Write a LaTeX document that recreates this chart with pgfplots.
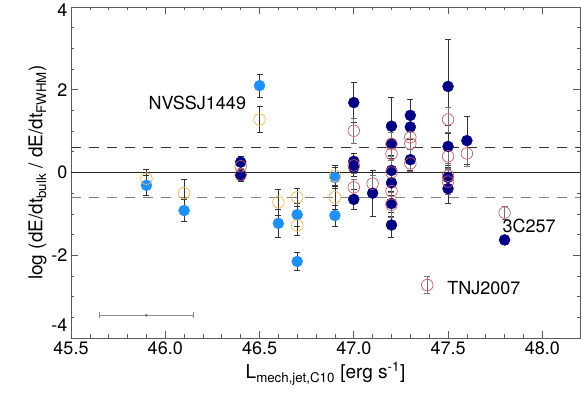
\documentclass[border=0pt]{standalone}
\usepackage{pgfplots}
\pgfplotsset{compat=1.18}
\usepackage{pgfplotstable}
\usepackage{fontspec}
\setmainfont{TeX Gyre Heros}
\definecolor{lblue}{RGB}{30,144,255}
\definecolor{dnavy}{RGB}{0,0,135}
\definecolor{lorange}{RGB}{245,180,70}
\definecolor{ired}{RGB}{205,92,92}
\definecolor{axgrey}{RGB}{90,90,90}

\pgfplotstableread{
x y ey
45.9 -0.31 0.25
46.1 -0.92 0.27
46.5 2.10 0.28
46.6 -1.23 0.33
46.7 -1.02 0.28
46.7 -2.15 0.22
46.9 -0.12 0.25
46.9 -1.04 0.25
}\bluedata

\pgfplotstableread{
x y ey
45.9 -0.15 0.22
46.1 -0.50 0.33
46.5 1.28 0.32
46.6 -0.72 0.32
46.7 -0.60 0.22
46.7 -1.28 0.25
46.9 -0.08 0.25
46.9 -0.60 0.28
}\orangedata

\pgfplotstableread{
x y ey
46.4 0.25 0.15
46.4 -0.07 0.15
47.0 1.69 0.48
47.0 0.27 0.20
47.0 0.12 0.20
47.0 -0.65 0.25
47.1 -0.50 0.55
47.2 1.12 0.70
47.2 0.70 0.40
47.2 0.05 0.30
47.2 -0.25 0.30
47.2 -0.75 0.30
47.2 -1.27 0.30
47.3 1.38 0.38
47.3 1.10 0.30
47.3 0.31 0.25
47.5 2.08 1.13
47.5 0.63 0.50
47.5 -0.12 0.30
47.5 -0.39 0.35
47.6 0.77 0.58
47.8 -1.63 0.10
}\navydata

\pgfplotstableread{
x y ey
46.4 0.15 0.15
46.4 -0.05 0.15
47.0 1.01 0.30
47.0 0.17 0.20
47.0 -0.36 0.20
47.1 -0.27 0.20
47.2 0.68 0.30
47.2 0.45 0.30
47.2 0.00 0.30
47.2 -0.45 0.30
47.2 -0.78 0.30
47.3 0.85 0.30
47.3 0.70 0.30
47.3 0.22 0.20
47.5 1.28 0.30
47.5 0.39 0.30
47.5 -0.08 0.30
47.5 -0.22 0.30
47.6 0.46 0.30
47.8 -0.97 0.15
47.39 -2.72 0.20
}\reddata

\begin{document}
\begin{tikzpicture}
\begin{axis}[
  scale only axis,
  width=509pt, height=331pt,
  xmin=45.5, xmax=48.2,
  ymin=-4, ymax=4,
  xtick={45.5,46.0,46.5,47.0,47.5,48.0},
  ytick={-4,-2,0,2,4},
  yticklabels={\raisebox{6pt}[0pt][0pt]{-4},-2,0,2,\raisebox{-10pt}[0pt][0pt]{4}},
  minor x tick num=4,
  minor y tick num=3,
  tick align=inside,
  major tick length=7pt,
  minor tick length=3.5pt,
  axis line style={axgrey, line width=0.9pt},
  every tick/.style={axgrey, line width=0.7pt},
  /pgf/number format/assume math mode=true,
  xticklabel style={/pgf/number format/.cd, fixed, fixed zerofill, precision=1},
  tick label style={font=\fontsize{18}{20}\selectfont},
  label style={font=\fontsize{19}{22}\selectfont},
  xlabel={L\textsubscript{mech,jet,C10} [erg s\textsuperscript{-1}]},
  ylabel={log (dE/dt\textsubscript{bulk} / dE/dt\textsubscript{FWHM})},
  xlabel style={yshift=-1pt},
  ylabel style={yshift=-2pt},
  clip=false,
]
% reference lines
\addplot[black!85, line width=1.2pt] coordinates {(45.5,0) (48.2,0)};
\addplot[black!80, line width=1.2pt, dash pattern=on 10pt off 8pt] coordinates {(45.5,0.6) (48.2,0.6)};
\addplot[black!50, line width=1.2pt, dash pattern=on 10pt off 8pt] coordinates {(45.5,-0.6) (48.2,-0.6)};

% markers
\addplot[only marks, mark=*, mark size=5.5pt, mark options={draw=lblue, fill=lblue}] table[x=x,y=y] {\bluedata};
\addplot[only marks, mark=o, mark size=5.8pt, mark options={draw=lorange, line width=0.7pt}] table[x=x,y=y] {\orangedata};
\addplot[only marks, mark=*, mark size=5.5pt, mark options={draw=dnavy, fill=dnavy}] table[x=x,y=y] {\navydata};
\addplot[only marks, mark=o, mark size=5.8pt, mark options={draw=ired, line width=0.7pt}] table[x=x,y=y] {\reddata};

% error bars
\pgfplotsset{ebar/.style={draw=none, mark=none,
  error bars/.cd, y dir=both, y explicit,
  error bar style={draw=#1, line width=0.6pt, solid},
  error mark options={rotate=90, draw=#1, mark size=3pt, line width=0.6pt}}}
\addplot[ebar=black!80] table[x=x,y=y,y error=ey] {\bluedata};
\addplot[ebar=black!80] table[x=x,y=y,y error=ey] {\orangedata};
\addplot[ebar=black!80] table[x=x,y=y,y error=ey] {\navydata};
\addplot[ebar=black!55] table[x=x,y=y,y error=ey] {\reddata};

% typical uncertainty bar
\addplot[only marks, mark=*, mark size=1.2pt, mark options={draw=black!55, fill=black!55},
  error bars/.cd, x dir=both, x explicit,
  error bar style={black!45, line width=1.1pt},
  error mark options={rotate=90, black!45, mark size=3pt, line width=0.8pt}]
  coordinates {(45.9,-3.45) +- (0.25,0)};

\node[font=\fontsize{18}{20}\selectfont] at (axis cs:46.17,1.67) {NVSSJ1449};
\node[font=\fontsize{18}{20}\selectfont] at (axis cs:47.93,-1.30) {3C257};
\node[font=\fontsize{18}{20}\selectfont] at (axis cs:47.69,-2.80) {TNJ2007};
\end{axis}
\pgfresetboundingbox
\path[use as bounding box] ([shift={(-71pt,-69pt)}]current axis.south west) rectangle ([shift={(1pt,7pt)}]current axis.north east);
\end{tikzpicture}
\end{document}
